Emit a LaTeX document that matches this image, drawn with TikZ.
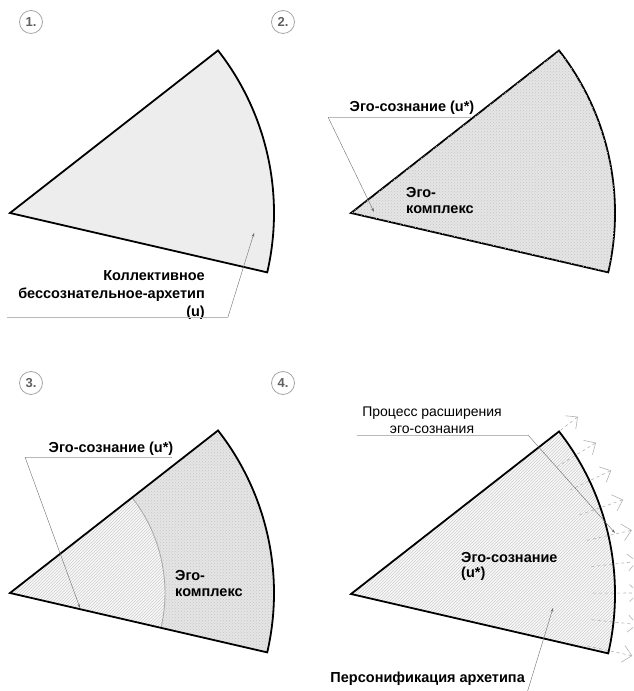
\documentclass[tikz,border=0pt]{standalone}
\usepackage{fontspec}
\setmainfont{Liberation Sans}
\usetikzlibrary{arrows.meta,patterns}

\begin{document}
\begin{tikzpicture}[x=1pt,y=1pt,
                    every node/.style={inner sep=0pt, font=\bfseries\fontsize{14.5}{18}\selectfont},
                    sector/.style={line width=1.8pt, line join=miter},
                    stipple/.style={fill=gray!20, postaction={pattern=crosshatch dots, pattern color=gray!45}},
                    hatch/.style={fill=gray!5, postaction={pattern=north east lines, pattern color=gray!40}},
                    numcirc/.style={draw=gray!70, thick, circle, minimum size=23pt, text=gray!75!black, font=\bfseries\fontsize{13}{15}\selectfont},
                    leader/.style={draw=gray!55, thin},
                    pointer/.style={draw=gray!85!black, thin, -{Stealth[length=4pt,width=2.5pt]}},
                    growarrow/.style={draw=gray!60, line width=0.6pt, dashed, -{Straight Barb[length=9pt,width=17pt]}}
                    ]
                    \useasboundingbox (0,0) rectangle (633,691);
                    \clip (0,0) rectangle (633,691);

                    \coordinate (A1) at (10,478);
                    \coordinate (A2) at (351,478);
                    \coordinate (A3) at (10,98);
                    \coordinate (A4) at (351,97);

                    \node[numcirc] (n1) at (31,669) {1.};
                    \node[numcirc] (n2) at (283,669) {2.};
                    \node[numcirc] (n3) at (31,308) {3.};
                    \node[numcirc] (n4) at (283,308) {4.};

                    \filldraw[sector, fill=gray!14] (A1) -- ++(38:264) arc[start angle=38, end angle=-13, radius=264pt] -- cycle;
                    \filldraw[sector, stipple] (A2) -- ++(38:264) arc[start angle=38, end angle=-13, radius=264pt] -- cycle;

                    \path[stipple] (A3) -- ++(38:264) arc[start angle=38, end angle=-13, radius=264pt] -- cycle;
                    \path[hatch] (A3) -- ++(38:155) arc[start angle=38, end angle=-13, radius=155pt] -- cycle;
                    \path (A3) ++(38:155) coordinate (i3);
                    \draw[gray!65, line width=0.9pt] (i3) arc[start angle=38, end angle=-13, radius=155pt];
                    \draw[sector] (A3) -- ++(38:264) arc[start angle=38, end angle=-13, radius=264pt] -- cycle;

                    \path[hatch] (A4) -- ++(38:264) arc[start angle=38, end angle=-13, radius=264pt] -- cycle;
                    \foreach \a in {38,31.7,...,-13}{
                        \path (A4) ++(\a:242) coordinate (g) ++(\a:46) coordinate (h);
                        \draw[growarrow] (g) -- (h);
                    }
                    \draw[sector] (A4) -- ++(38:264) arc[start angle=38, end angle=-13, radius=264pt] -- cycle;

                    \node[anchor=east, align=right] (ku) at (205,396) {Коллективное\\бессознательное-архетип\\(u)};
                    \coordinate (ku0) at (7,374);
                    \coordinate (ku1) at (228,374);
                    \coordinate (ku2) at (254,458);
                    \draw[leader] (ku0) -- (ku1);
                    \draw[pointer] (ku1) -- (ku2);

                    \node (es2) at (412,583) {Эго-сознание (u*)};
                    \coordinate (es2a) at (328,574);
                    \coordinate (es2b) at (472,574);
                    \coordinate (es2t) at (374,479);
                    \draw[leader] (es2a) -- (es2b);
                    \draw[pointer] (es2a) -- (es2t);
                    \node[anchor=west, align=left, font=\bfseries\fontsize{14.5}{16}\selectfont] (ek2) at (406,490) {Эго-\\комплекс};

                    \node (es3) at (111,242) {Эго-сознание (u*)};
                    \coordinate (es3a) at (25,234);
                    \coordinate (es3b) at (172,234);
                    \coordinate (es3t) at (80,83);
                    \draw[leader] (es3a) -- (es3b);
                    \draw[pointer] (es3a) -- (es3t);
                    \node[anchor=west, align=left, font=\bfseries\fontsize{14.5}{16}\selectfont] (ek3) at (175,107) {Эго-\\комплекс};

                    \node[align=center, font=\fontsize{14}{17}\selectfont] (pr) at (432,271) {Процесс расширения\\эго-сознания};
                    \coordinate (pr0) at (357,256);
                    \coordinate (pr1) at (528,256);
                    \coordinate (pr2) at (615,158);
                    \draw[leader] (pr0) -- (pr1);
                    \draw[pointer] (pr1) -- (pr2);
                    \node[anchor=west, align=left, font=\bfseries\fontsize{14.5}{15}\selectfont] (es4) at (461,125) {Эго-сознание\\(u*)};

                    \node[anchor=east] (pa) at (525,12) {Персонификация архетипа};
                    \coordinate (pa0) at (527,-2);
                    \coordinate (pa1) at (553,83);
                    \draw[pointer] (pa0) -- (pa1);
                \end{tikzpicture}
\end{document}
